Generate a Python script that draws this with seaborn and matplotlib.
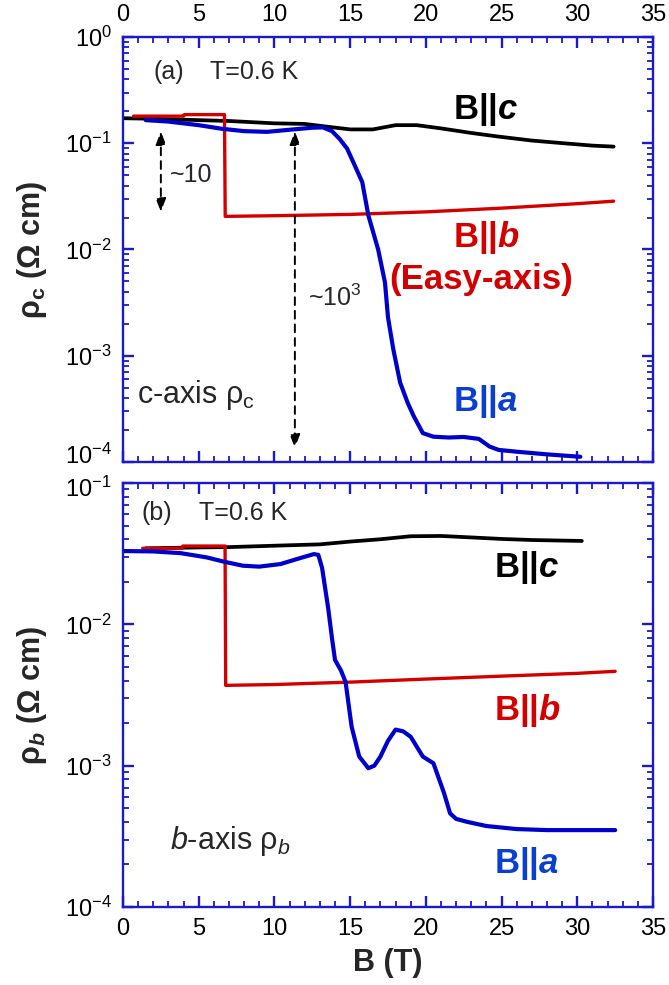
import numpy as np
import pandas as pd
import matplotlib
matplotlib.use("Agg")
import matplotlib.pyplot as plt
import matplotlib.transforms as mtransforms
from matplotlib.ticker import MultipleLocator, LogLocator, NullFormatter
import seaborn as sns

# ---------------- data ----------------
# Panel (a): c-axis resistivity rho_c (Ohm cm) vs B (T)
a_c_B = [0, 2, 5, 7, 10, 12, 13.7, 15, 16.5, 18, 19.4, 21, 23, 24.7, 27, 29.1, 31, 32.4]
a_c_R = [0.172, 0.170, 0.165, 0.162, 0.154, 0.152, 0.142, 0.135, 0.135, 0.148, 0.148,
         0.138, 0.125, 0.116, 0.106, 0.100, 0.095, 0.093]

a_b_B = [0.7, 4.0, 4.05, 6.7, 6.75, 10, 15, 20, 25, 30, 32.4]
a_b_R = [0.180, 0.180, 0.186, 0.186, 0.0205, 0.0208, 0.0214, 0.0226, 0.0245, 0.027, 0.0285]

a_a_B = [1.5, 3, 5, 6.5, 8, 9.5, 11, 12.5, 13.2, 13.8, 14.3, 14.8, 15.3, 15.8, 16.2,
         16.85, 17.3, 17.5, 17.85, 18.3, 18.8, 19.2, 19.8, 20.5, 21.5, 22.5, 23.5,
         24.2, 24.8, 26, 28, 30.2]
a_a_R = [0.165, 0.160, 0.148, 0.137, 0.130, 0.128, 0.134, 0.140, 0.141, 0.130, 0.110,
         0.089, 0.062, 0.043, 0.021, 0.010, 0.0049, 0.0023, 0.00115, 0.00056, 0.00036,
         0.00027, 0.000187, 0.000173, 0.000170, 0.000172, 0.000165, 0.000140, 0.000130,
         0.000125, 0.000118, 0.000112]

# Panel (b): b-axis resistivity rho_b (Ohm cm) vs B (T)
b_c_B = [1.5, 5, 7, 10, 13, 15, 17, 19, 21, 23, 25, 27, 30.3]
b_c_R = [0.0345, 0.0350, 0.0352, 0.0360, 0.0368, 0.0385, 0.0400, 0.0420, 0.0422,
         0.0412, 0.0402, 0.0395, 0.0389]

b_b_B = [1.3, 3.9, 3.95, 6.74, 6.78, 10, 13, 15, 20, 25, 30, 32.5]
b_b_R = [0.0345, 0.0345, 0.0358, 0.0358, 0.0037, 0.00375, 0.00384, 0.0039, 0.0041,
         0.0043, 0.0045, 0.00465]

b_a_B = [0, 2, 3.8, 5.5, 6.7, 7.9, 9, 10.4, 11.5, 12.6, 12.9, 13.15, 13.35, 13.55,
         13.8, 14.0, 14.4, 14.7, 15.1, 15.6, 16.2, 16.6, 17.0, 17.5, 18.0, 18.5, 19.0,
         19.8, 20.5, 21.2, 21.6, 22.0, 22.7, 24, 26, 28, 30, 32.5]
b_a_R = [0.0330, 0.0328, 0.0319, 0.0298, 0.0277, 0.0260, 0.0256, 0.0267, 0.0290,
         0.0314, 0.0310, 0.0250, 0.0180, 0.0130, 0.0080, 0.0056, 0.0047, 0.0039,
         0.00188, 0.00116, 0.00096, 0.00100, 0.00116, 0.00150, 0.00180, 0.00175,
         0.00160, 0.00116, 0.00104, 0.00064, 0.00046, 0.00042, 0.000401, 0.000374,
         0.000356, 0.00035, 0.00035, 0.00035]

x_ticks = [0, 5, 10, 15, 20, 25, 30, 35]

# ---------------- style ----------------
sns.set_style("ticks")
plt.rcParams["font.family"] = ["Liberation Sans", "DejaVu Sans"]
plt.rcParams["mathtext.fontset"] = "custom"
plt.rcParams["mathtext.rm"] = "Liberation Sans"
plt.rcParams["mathtext.it"] = "Liberation Sans:italic"
plt.rcParams["mathtext.bf"] = "Liberation Sans:bold"
plt.rcParams["mathtext.bfit"] = "Liberation Sans:bold:italic"
plt.rcParams["mathtext.sf"] = "Liberation Sans"

AX_BLUE = "#1a1acc"
C_BLACK = "#000000"
C_RED = "#d40000"
C_BLUE = "#0000cc"
T_BLUE = "#0a3fd0"
PALETTE = {"c": C_BLACK, "b": C_RED, "a": C_BLUE}
WIDTHS = {"c": 2.7, "b": 2.4, "a": 3.0}

fig = plt.figure(figsize=(6.69, 9.85), dpi=100)
W, H = 669.0, 985.0
ax1 = fig.add_axes([123 / W, 1 - 462 / H, 530 / W, 425 / H])
ax2 = fig.add_axes([123 / W, 1 - 907 / H, 530 / W, 424 / H])


def make_df(B, R, name):
    return pd.DataFrame({"B": B, "R": R, "series": name})


def draw(ax, frames):
    for name, df in frames:
        sns.lineplot(data=df, x="B", y="R", estimator=None, sort=False,
                     color=PALETTE[name], linewidth=WIDTHS[name], legend=False, ax=ax)


def style_axes(ax, ylim, top_labels):
    ax.set_yscale("log")
    ax.set_xlim(0, 35)
    ax.set_ylim(*ylim)
    ax.set_xticks(x_ticks)
    ax.xaxis.set_minor_locator(MultipleLocator(1))
    ax.yaxis.set_major_locator(LogLocator(base=10))
    ax.yaxis.set_minor_locator(LogLocator(base=10, subs=np.arange(2, 10)))
    ax.yaxis.set_minor_formatter(NullFormatter())
    for sp in ax.spines.values():
        sp.set_color(AX_BLUE)
        sp.set_linewidth(1.7)
        sp.set_visible(True)
    ax.tick_params(which="both", direction="in", top=True, right=True,
                   color=AX_BLUE, labelcolor="black", labelsize=17)
    ax.tick_params(which="major", length=8, width=1.7, pad=8)
    ax.tick_params(which="minor", length=4, width=1.3)
    if top_labels:
        ax.tick_params(axis="x", labeltop=True, labelbottom=False)
    ax.set_xlabel("")
    ax.set_ylabel("")


LBL = dict(fontsize=25, fontweight="bold", va="center", ha="left")

# ---------------- panel (a) ----------------
draw(ax1, [("c", make_df(a_c_B, a_c_R, "c")), ("b", make_df(a_b_B, a_b_R, "b")),
           ("a", make_df(a_a_B, a_a_R, "a"))])
style_axes(ax1, (1e-4, 1e0), top_labels=True)

ax1.text(2.0, 0.47, "(a)", fontsize=18, va="center", ha="left")
ax1.text(5.75, 0.47, "T=0.6 K", fontsize=18, va="center", ha="left")
ax1.text(21.8, 0.21, r"B||$\mathbfit{c}$", color=C_BLACK, **LBL)
ax1.text(21.8, 0.013, r"B||$\mathbfit{b}$", color=C_RED, **LBL)
ax1.text(17.6, 0.0052, "(Easy-axis)", color=C_RED, **LBL)
ax1.text(21.8, 0.00037, r"B||$\mathbfit{a}$", color=T_BLUE, **LBL)
ax1.text(0.9, 0.00043, r"c-axis $\mathrm{ρ}_{\mathrm{c}}$", fontsize=22,
         va="center", ha="left")
ax1.text(3.1, 0.05, "~10", fontsize=18, va="center", ha="left")
ax1.text(12.2, 0.0035, r"~10$^3$", fontsize=18, va="center", ha="left")

arrow_kw = dict(arrowstyle="<|-|>,head_length=0.8,head_width=0.3", color="black",
                linestyle=(0, (4, 3)), linewidth=1.4, shrinkA=0, shrinkB=0)
ax1.annotate("", xy=(2.5, 0.0225), xytext=(2.5, 0.13), arrowprops=arrow_kw)
ax1.annotate("", xy=(11.35, 0.000135), xytext=(11.35, 0.13), arrowprops=arrow_kw)

ax1.set_ylabel(r"ρ$_{\mathbf{c}}$ (Ω cm)", fontsize=22, fontweight="bold")
ax1.yaxis.set_label_coords(-0.14, 0.5)

# ---------------- panel (b) ----------------
draw(ax2, [("c", make_df(b_c_B, b_c_R, "c")), ("b", make_df(b_b_B, b_b_R, "b")),
           ("a", make_df(b_a_B, b_a_R, "a"))])
style_axes(ax2, (1e-4, 1e-1), top_labels=False)

ax2.text(1.25, 0.061, "(b)", fontsize=18, va="center", ha="left")
ax2.text(5.0, 0.061, "T=0.6 K", fontsize=18, va="center", ha="left")
ax2.text(24.5, 0.0254, r"B||$\mathbfit{c}$", color=C_BLACK, **LBL)
ax2.text(24.5, 0.00247, r"B||$\mathbfit{b}$", color=C_RED, **LBL)
ax2.text(24.5, 0.000204, r"B||$\mathbfit{a}$", color=T_BLUE, **LBL)
ax2.text(3.1, 0.000295, r"$\mathit{b}$-axis $\mathrm{ρ}_{\mathit{b}}$", fontsize=22,
         va="center", ha="left")

ax2.set_xlabel("B (T)", fontsize=22, fontweight="bold", labelpad=6)
ax2.set_ylabel(r"ρ$_{\mathbfit{b}}$ (Ω cm)", fontsize=22, fontweight="bold")
ax2.yaxis.set_label_coords(-0.14, 0.5)

# nudge the two y tick labels that meet between the panels apart
fig.canvas.draw()
for ax, val, dy in [(ax1, 1e-4, 6 / 72), (ax2, 1e-1, -3 / 72)]:
    for tick in ax.yaxis.get_major_ticks():
        if np.isclose(tick.get_loc(), val):
            off = mtransforms.ScaledTranslation(0, dy, fig.dpi_scale_trans)
            tick.label1.set_transform(tick.label1.get_transform() + off)

fig.savefig("out.png", dpi=100)
